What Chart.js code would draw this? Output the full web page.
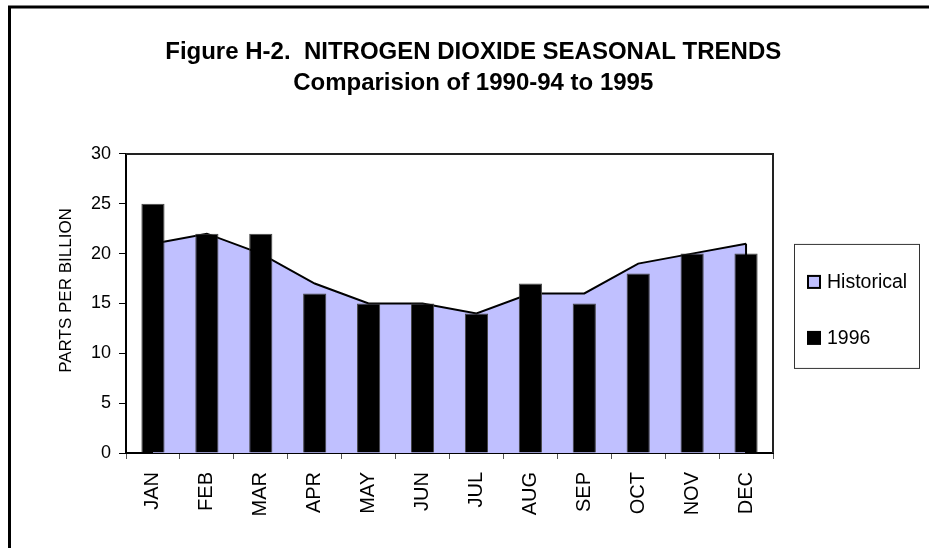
<!DOCTYPE html>
<html>
<head>
<meta charset="utf-8">
<script src="https://cdn.jsdelivr.net/npm/chart.js@4.4.0/dist/chart.umd.min.js"></script>
<style>
  html, body { margin: 0; padding: 0; background: #fff; }
</style>
</head>
<body>
<canvas id="no2Chart" width="929" height="548"></canvas>
<script>
var months = ["JAN", "FEB", "MAR", "APR", "MAY", "JUN", "JUL", "AUG", "SEP", "OCT", "NOV", "DEC"];
var historical = [21, 22, 20, 17, 15, 15, 14, 16, 16, 19, 20, 21];
var year1996 = [25, 22, 22, 16, 15, 15, 14, 17, 15, 18, 20, 20];
var yTicks = [0, 5, 10, 15, 20, 25, 30];
var titleLines = ["Figure H-2.  NITROGEN DIOXIDE SEASONAL TRENDS", "Comparision of 1990-94 to 1995"];
var yAxisTitle = "PARTS PER BILLION";

var FONT = '"Liberation Sans", Arial, sans-serif';
// outer chart frame (runs off the right and bottom of the picture)
var frame = { left: 9.5, top: 7, right: 937, bottom: 600 };

// Excel-style extras: outer frame, plot box, area outline, axis title, boxed legend
var excelLook = {
  id: "excelLook",
  beforeDraw: function (chart) {
    var ctx = chart.ctx;
    ctx.save();
    ctx.fillStyle = "#fff";
    ctx.fillRect(0, 0, chart.width, chart.height);
    ctx.restore();
  },
  afterLayout: function (chart) {
    // center the title on the whole chart frame, not on the padded box
    var t = chart.titleBlock;
    var w = t.right - t.left;
    var cx = (frame.left + frame.right) / 2;
    t.left = cx - w / 2;
    t.right = cx + w / 2;
  },
  afterDraw: function (chart) {
    var ctx = chart.ctx;
    var a = chart.chartArea;
    ctx.save();
    // outer frame
    ctx.strokeStyle = "#000";
    ctx.lineWidth = 3;
    ctx.strokeRect(frame.left, frame.top, frame.right - frame.left, frame.bottom - frame.top);

    // plot box top + right
    ctx.lineWidth = 2;
    ctx.strokeStyle = "#222";
    ctx.beginPath();
    ctx.moveTo(a.left, a.top);
    ctx.lineTo(a.right, a.top);
    ctx.lineTo(a.right, a.bottom);
    ctx.stroke();

    // closing edge of the historical area
    var meta = chart.getDatasetMeta(0);
    var last = meta.data[meta.data.length - 1];
    ctx.strokeStyle = "#000";
    ctx.beginPath();
    ctx.moveTo(last.x, last.y);
    ctx.lineTo(last.x, chart.scales.y.getPixelForValue(0));
    ctx.stroke();

    // value axis title, sits a little above the plot's middle like the original
    ctx.save();
    ctx.translate(chart.scales.y.left + 16, (a.top + a.bottom) / 2 - 13);
    ctx.rotate(-Math.PI / 2);
    ctx.font = "17px " + FONT;
    ctx.fillStyle = "#000";
    ctx.textAlign = "center";
    ctx.textBaseline = "middle";
    ctx.fillText(yAxisTitle, 0, 0);
    ctx.restore();

    // legend
    var lb = { left: a.right + 21, top: a.top + 90, width: 125, height: 124 };
    ctx.lineWidth = 1;
    ctx.strokeStyle = "#333";
    ctx.strokeRect(lb.left + 0.5, lb.top + 0.5, lb.width, lb.height);
    var rows = [lb.top + 38, lb.top + 94];
    ctx.font = "19.5px " + FONT;
    ctx.textBaseline = "middle";
    ctx.textAlign = "left";
    chart.data.datasets.forEach(function (ds, i) {
      var y = rows[i];
      ctx.fillStyle = ds.backgroundColor;
      ctx.fillRect(lb.left + 14, y - 6, 12, 12);
      ctx.lineWidth = 2;
      ctx.strokeStyle = "#000";
      ctx.strokeRect(lb.left + 14, y - 6, 12, 12);
      ctx.fillStyle = "#000";
      ctx.fillText(ds.label, lb.left + 33, y + 1);
    });
    ctx.restore();
  }
};

var ctx = document.getElementById("no2Chart").getContext("2d");
var no2Chart = new Chart(ctx, {
  data: {
    labels: months,
    datasets: [
      {
        type: "line",
        label: "Historical",
        data: historical,
        fill: "origin",
        backgroundColor: "#c0c0ff",
        borderColor: "#000",
        borderWidth: 2,
        pointRadius: 0,
        tension: 0,
        order: 2
      },
      {
        type: "bar",
        label: "1996",
        data: year1996,
        backgroundColor: "#000",
        borderColor: "#444",
        borderWidth: 1,
        barPercentage: 0.43,
        categoryPercentage: 1,
        order: 1
      }
    ]
  },
  options: {
    responsive: false,
    animation: false,
    layout: { padding: { left: 50, right: 156, top: 18, bottom: 0 } },
    plugins: {
      legend: { display: false },
      tooltip: { enabled: false },
      title: {
        display: true,
        text: titleLines,
        color: "#000",
        font: { family: FONT, size: 24, weight: "bold", lineHeight: 1.29 },
        padding: { top: 19, bottom: 55 }
      }
    },
    scales: {
      x: {
        type: "category",
        offset: true,
        grid: { offset: true, drawOnChartArea: false, drawTicks: true, tickLength: 6, color: "#555" },
        border: { color: "#000", width: 2 },
        ticks: {
          autoSkip: false,
          minRotation: 90,
          maxRotation: 90,
          padding: 13,
          color: "#000",
          font: { family: FONT, size: 20 }
        },
        afterFit: function (scale) { scale.height = 95; }
      },
      y: {
        min: 0,
        max: 30,
        afterBuildTicks: function (scale) {
          scale.ticks = yTicks.map(function (v) { return { value: v }; });
        },
        grid: { drawOnChartArea: false, drawTicks: true, tickLength: 7, color: "#000" },
        border: { color: "#000", width: 2 },
        ticks: { padding: 8, color: "#000", font: { family: FONT, size: 18 } },
        afterFit: function (scale) { scale.width = 76; }
      }
    }
  },
  plugins: [excelLook]
});
</script>
</body>
</html>
